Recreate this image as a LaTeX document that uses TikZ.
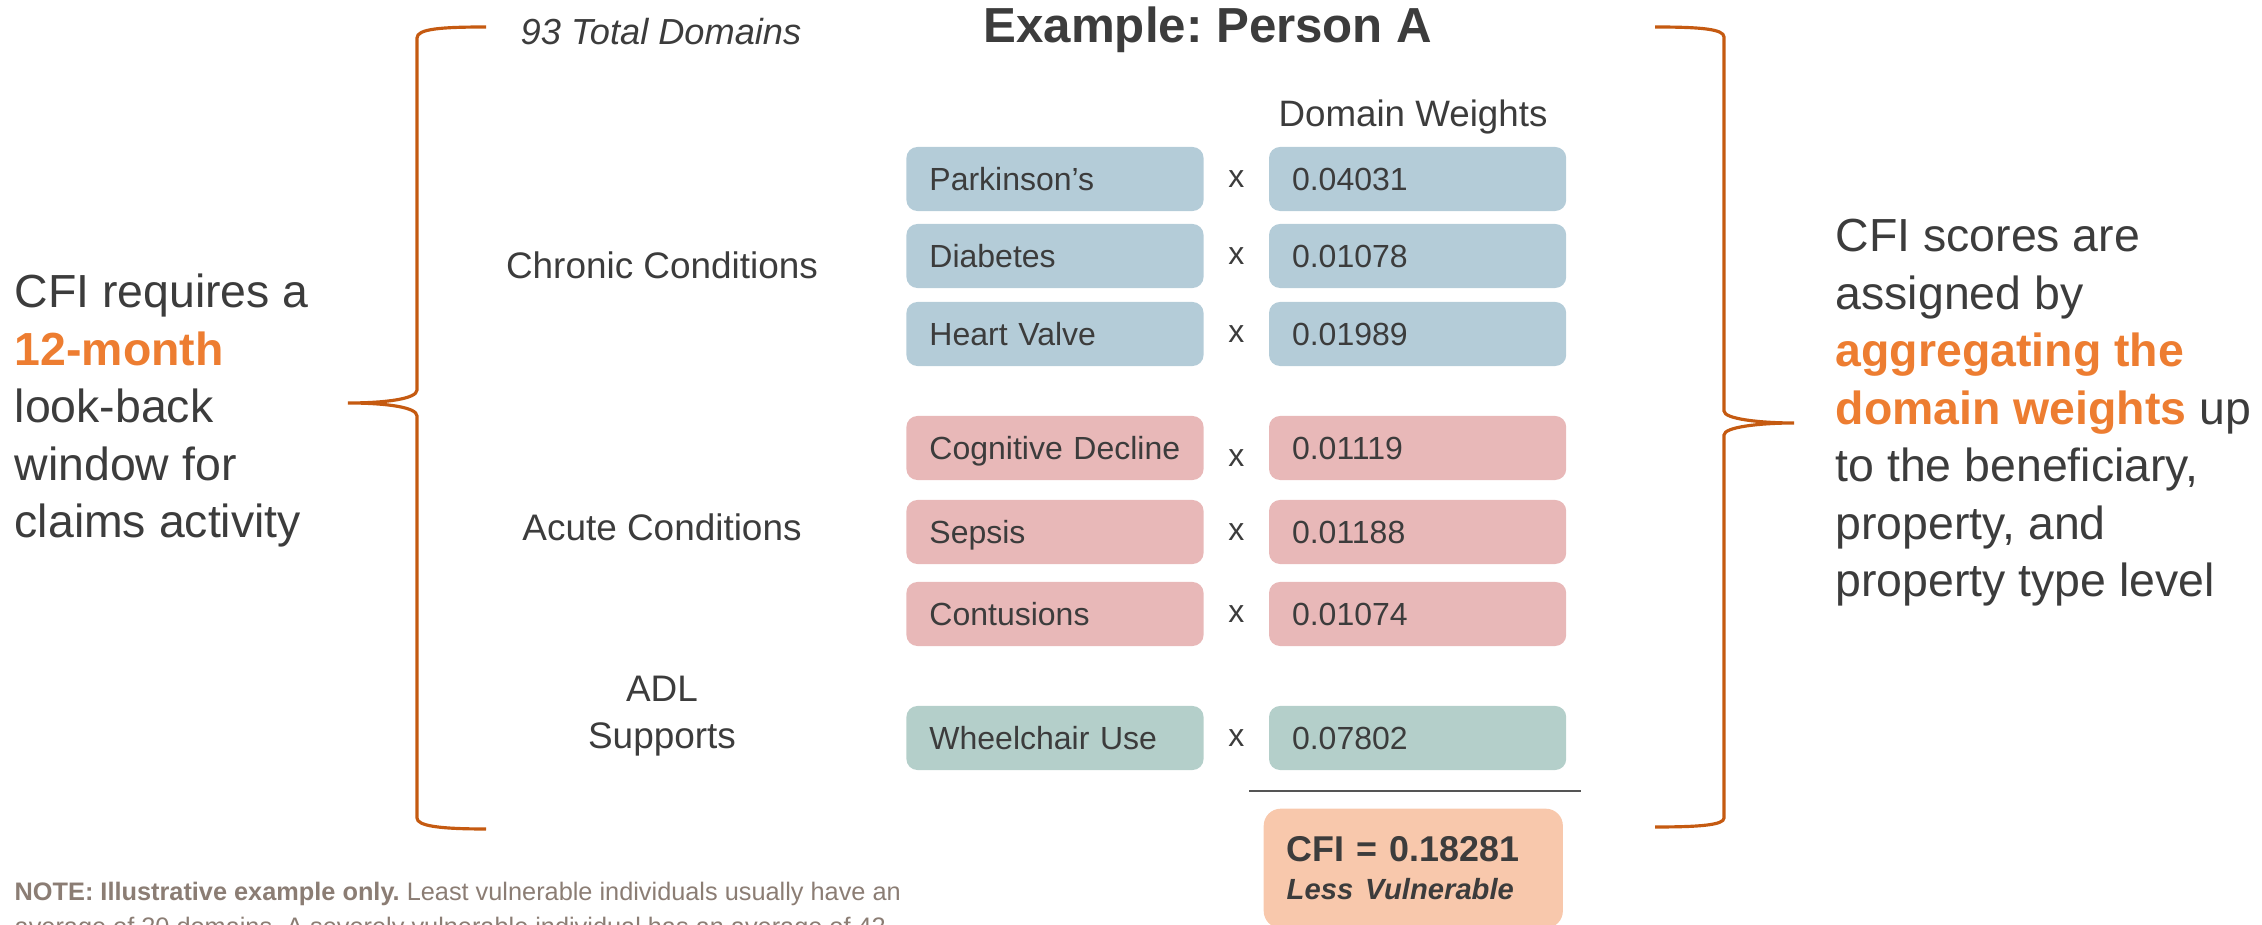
\documentclass[tikz,border=0pt]{standalone}
\usepackage{fontspec}
\setmainfont{Liberation Sans}
\usetikzlibrary{positioning, calc}
\frenchspacing

\definecolor{inkgray}{HTML}{3C3C3C}
\definecolor{notegray}{HTML}{8B7D74}
\definecolor{braceorange}{HTML}{C55A11}
\definecolor{hiorange}{HTML}{ED7D31}
\definecolor{chronicblue}{HTML}{B4CCD8}
\definecolor{acutepink}{HTML}{E8B8B8}
\definecolor{adlgreen}{HTML}{B4CFCA}
\definecolor{scorepeach}{HTML}{F8C8AC}
\definecolor{rulegray}{HTML}{555555}

\begin{document}
\begin{tikzpicture}[x=0.01cm, y=-0.01cm,
    every node/.style={text=inkgray},
    itembox/.style={fill=#1, rounded corners=0.11cm, minimum height=0.64cm,
      text width=2.51cm, inner xsep=0.23cm, inner ysep=0pt, align=left,
      text height=0.23cm, text depth=0pt, font=\fontsize{9.1}{11}\selectfont},
    timesign/.style={font=\fontsize{9.1}{11}\selectfont, inner sep=0pt},
    catlabel/.style={font=\fontsize{10.5}{13.4}\selectfont, align=center},
    sidetext/.style={font=\fontsize{13.2}{16.36}\selectfont, align=left,
      anchor=base west, inner sep=0pt},
    curly/.style={draw=braceorange, line width=0.9pt}]
  \useasboundingbox (0,0) rectangle (2262,925);

  % headings
  \node [font=\fontsize{14}{17}\selectfont\bfseries, anchor=base] (title) at (1208,43) {Example: Person A};
  \node [font=\fontsize{10.3}{12}\selectfont\itshape, anchor=base] (total) at (661,45) {93 Total Domains};
  \node [font=\fontsize{10.45}{12}\selectfont, anchor=base] (wtitle) at (1413,127) {Domain Weights};

  % categories
  \node [catlabel] (chronic) at (662,265) {Chronic Conditions};
  \node [catlabel] (acute) at (662,527) {Acute Conditions};
  \node [catlabel] (adl) at (662,716) {ADL\\Supports};

  % domains
  \node [itembox=chronicblue] (park) at (1055,179) {Parkinson’s};
  \node [itembox=chronicblue] (diab) at (1055,256) {Diabetes};
  \node [itembox=chronicblue] (heart) at (1055,334) {Heart Valve};
  \node [itembox=acutepink] (cogn) at (1055,448) {Cognitive Decline};
  \node [itembox=acutepink] (seps) at (1055,532) {Sepsis};
  \node [itembox=acutepink] (cont) at (1055,614) {Contusions};
  \node [itembox=adlgreen] (wheel) at (1055,738) {Wheelchair Use};

  % weights
  \node [itembox=chronicblue, right=0.64cm of park] (wpark) {0.04031};
  \node [itembox=chronicblue, right=0.64cm of diab] (wdiab) {0.01078};
  \node [itembox=chronicblue, right=0.64cm of heart] (wheart) {0.01989};
  \node [itembox=acutepink, right=0.64cm of cogn] (wcogn) {0.01119};
  \node [itembox=acutepink, right=0.64cm of seps] (wseps) {0.01188};
  \node [itembox=acutepink, right=0.64cm of cont] (wcont) {0.01074};
  \node [itembox=adlgreen, right=0.64cm of wheel] (wwheel) {0.07802};

  \node [timesign] (xpark) at ($(park.east)!0.5!(wpark.west)$) {x};
  \node [timesign] (xdiab) at ($(diab.east)!0.5!(wdiab.west)$) {x};
  \node [timesign] (xheart) at ($(heart.east)!0.5!(wheart.west)$) {x};
  \node [timesign, yshift=-0.1cm] (xcogn) at ($(cogn.east)!0.5!(wcogn.west)$) {x};
  \node [timesign] (xseps) at ($(seps.east)!0.5!(wseps.west)$) {x};
  \node [timesign] (xcont) at ($(cont.east)!0.5!(wcont.west)$) {x};
  \node [timesign] (xwheel) at ($(wheel.east)!0.5!(wwheel.west)$) {x};

  % sum
  \draw [rulegray, line width=0.45pt] ($(wwheel.south west)+(-19,20)$) -- ($(wwheel.south east)+(14,20)$);
  \node [fill=scorepeach, rounded corners=0.17cm, anchor=north west, text width=2.53cm,
    inner xsep=0.23cm, inner ysep=0.28cm, align=left,
    font=\fontsize{10.2}{10.8}\selectfont\bfseries] (score) at (1263,808)
    {CFI = 0.18281\\{\fontsize{8.3}{10.8}\selectfont\itshape Less Vulnerable}};

  % braces
  \draw [curly] (486,27) .. controls (440,27) and (417,29) .. (417,38) -- (417,390)
    .. controls (417,399) and (385,403) .. (348,403)
    .. controls (385,403) and (417,407) .. (417,416) -- (417,818)
    .. controls (417,826) and (440,829) .. (486,829);
  \draw [curly] (1655,27) .. controls (1700,27) and (1724,29) .. (1724,37) -- (1724,411)
    .. controls (1724,419) and (1760,423) .. (1794,423)
    .. controls (1760,423) and (1724,427) .. (1724,435) -- (1724,818)
    .. controls (1724,825) and (1700,827) .. (1655,827);

  % side texts (base = last line)
  \node [sidetext] (lookback) at (14,538) {CFI requires a\\\textcolor{hiorange}{\textbf{12-month}}\\look-back\\window for\\claims activity};
  \node [sidetext] (aggregate) at (1835,597) {CFI scores are\\assigned by\\\textcolor{hiorange}{\textbf{aggregating the}}\\\textcolor{hiorange}{\textbf{domain weights}} up\\to the beneficiary,\\property, and\\property type level};

  % note
  \node [anchor=base west, inner sep=0pt, align=left, font=\fontsize{7.2}{10}\selectfont, text=notegray] (note) at (14,936)
    {\textbf{NOTE: Illustrative example only.} Least vulnerable individuals usually have an\\average of 20 domains. A severely vulnerable individual has an average of 42};
\end{tikzpicture}
\end{document}
